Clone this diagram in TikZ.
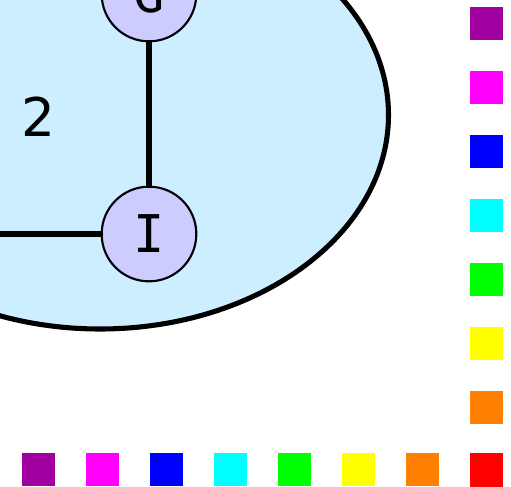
\documentclass[tikz,border=0pt]{standalone}
\usepackage{fontspec}
\setmainfont{DejaVu Sans}
\newfontfamily\monofont{DejaVu Sans Mono}
\begin{document}
\begin{tikzpicture}[x=0.75pt,y=-0.75pt,line cap=round,line join=round]
  \tikzset{
    vertex/.style={circle,draw=black,line width=1.6pt,fill=vfill,minimum size=71pt,inner sep=0pt,font=\monofont\fontsize{39}{39}\selectfont},
    edge/.style={line width=3.8pt},
    swatch/.style={minimum size=24.75pt,inner sep=0pt,draw=none}
  }
  \definecolor{vfill}{HTML}{CCCCFF}
  \definecolor{cfill}{HTML}{CCEEFF}
  \definecolor{sw0}{HTML}{A0009F}
  \definecolor{sw1}{HTML}{FF00FF}
  \definecolor{sw2}{HTML}{0000FF}
  \definecolor{sw3}{HTML}{00FFFF}
  \definecolor{sw4}{HTML}{00FF00}
  \definecolor{sw5}{HTML}{FFFF00}
  \definecolor{sw6}{HTML}{FF8000}
  \definecolor{sw7}{HTML}{FF0000}
  \useasboundingbox (0,0) rectangle (511,486);
  \begin{scope}
    \clip (0,0) rectangle (511,486);
    \draw[line width=3.8pt,fill=cfill] (100,115) ellipse[x radius=288.5,y radius=214];
    \node (lbl) at (38.5,117) {\fontsize{40}{40}\selectfont 2};
    \node[vertex] (G) at (149,-6) {G};
    \node[vertex] (I) at (149,234) {I};
    \coordinate (west) at (-5,234);
    \draw[edge] (G) -- (I);
    \draw[edge] (I) -- (west);
  \end{scope}
  % colour swatches
  \foreach \i in {0,...,7}{
    \node[swatch,fill=sw\i] (col\i) at (486.5,23+64*\i) {};
    \node[swatch,fill=sw\i] (row\i) at (38.5+64*\i,469.5) {};
  }
\end{tikzpicture}
\end{document}
